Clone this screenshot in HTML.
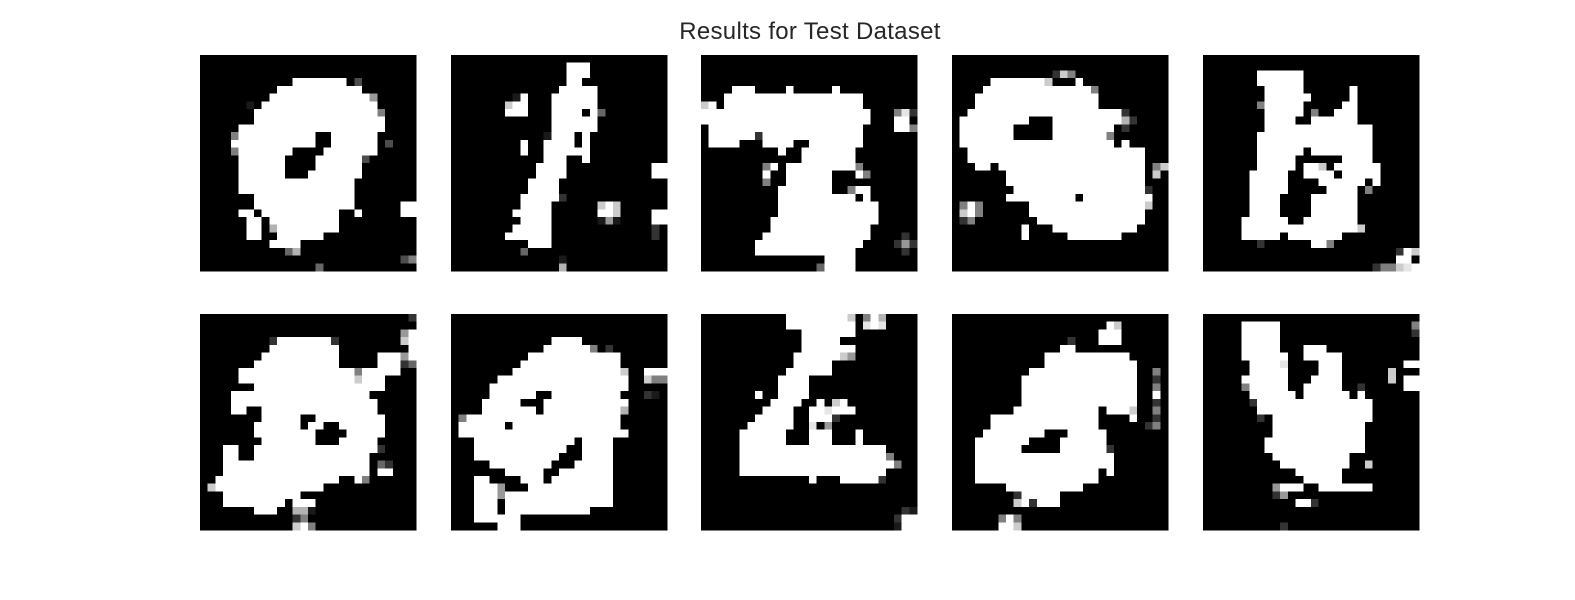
<!DOCTYPE html>
<html><head><meta charset="utf-8"><title>Results for Test Dataset</title>
<style>
html,body{margin:0;padding:0;background:#fff;width:1575px;height:600px;overflow:hidden}
#title{position:absolute;left:0;width:1620px;top:18px;text-align:center;font-family:"Liberation Sans",Arial,sans-serif;font-size:24px;letter-spacing:0.3px;color:#262626}
svg{position:absolute;left:0;top:0}
</style></head>
<body>
<div id="title">Results for Test Dataset</div>
<svg id="chart" width="1575" height="600" shape-rendering="crispEdges"></svg>
<script>
// Each image: 28 rows, run-length tokens: count + char. '.'=black, '#'=white, a..i = gray levels 0.1..0.9
const img0=["28.","28.","28.","12. 7# . c 7.","10. 11# 7.","9. 13# f 5.","6. a . 15# 5.","7. 16# e 4.","7. 17# 4.","5. 19# 4.","4. e 10# 2. 6# 5.","4. # 10# 2. 6# . c 4.","4. e 7# 4. 7# 5.","5. 6# 4. 6# c 6.","5. 6# 4. 6# 7.","5. 6# 3. 7# 7.","5. 15# 8.","5. 15# 8.","7. 13# 8.","7. 13# 6. 2#","5. 2# . 10# 2. # 5. 2#","6. 2# . 9# 10.","6. 2# . g 8# 10.","6. 2# 2. 6# 12.","9. 4# 15.","11. d g 15.","26. c e","15. d 12."];
const img1=["28.","15. 3# 10.","15. 3# 10.","15. 2# 11.","14. 5# 9.","8. a # 3. 6# 9.","7. h 2# 3. 6# 9.","7. 3# 3. 4# . # d 8.","13. 6# 9.","13. 6# 9.","12. a 3# . # 10.","9. # 2. 4# . # 10.","9. # 2. 6# 10.","12. 3# 2. # 10.","11. 4# 11. 2#","11. 4# 11. 2#","10. 4# 14.","10. 4# 14.","9. 5# b 13.","9. 4# 6. h # h 6.","8. 5# 6. 2# h 4. 2#","9. 4# 6. a f a 4. 2#","8. 5# 13. b .","7. 6# 13. b .","10. 3# 15.","9. d 18.","14. a 13.","14. g 13."];
const img2=["28.","28.","28.","28.","4. 3# 4. # 5. # 10.","3. 18# 7.","h # . 18# 7.","22# 3. e i b","22# 3. 2# .",". 20# 4. 2# e",". 6# b 13# 7.",". 4# 3. 4# 2. 7# 7.","10. # 2. 7# 8.","13. 7# 8.","8. e # . 9# e 7.","8. # 2. 6# 3. # e 6.","8. e 2. 6# 11.","10. 7# 2. e 2# 6.","10. 10# . # 6.","10. 13# 5.","10. 13# 5.","9. 14# 5.","9. 13# 6.","8. 14# 4. b .","7. 14# 4. b f b","7. 13# 6. b .","16. 4# 8.","15. d 4# 8."];
const img3=["28.","28.","13. b h e 12.","5. 7# h 3. # 11.","4. 14# e 9.","3. 16# 9.","3. 16# 9.","2. 20# b 5.",". 9# 3. 9# g b 4.",". 7# 5. 8# . b 5.",". 7# 5. 7# e 7.",". 20# . # 5.","2. 23# 3.","2. 23# 3.","3. 2# . 19# . e h","7. 18# . h .","7. 18# 3.","8. 17# b 2.","7. 9# . 9# 2.",". e # e 6. 15# h 2.",". h # e 6. 15# 3.",". b e 8. 14# 3.","9. # 3. 11# 4.","9. # 5. 7# 6.","28.","28.","28.","28."];
const img4=["28.","28.","7. 6# 15.","7. 6# 15.","8. 5# 6. # 8.","8. 6# 5. # 8.","7. e 5# 5. 2# 8.","8. 5# . e 2. 3# 8.","8. 4# 2. 6# 8.","8. 14# 6.","7. 15# 6.","7. 15# 6.","7. 6# . 8# 6.","7. 5# 6. 4# 6.","7. 5# . 2# h . # 5# 5.","6. 5# 2. 4# . 5# 5.","6. 5# 4. 6# . # 5.","6. 5# 5. 4# . e 6.","6. 4# 4. 6# 8.","6. 4# 4. 6# 8.","6. 4# 4. 6# 8.","5. 6# 2. 7# 8.","5. 15# h 7.","5. 5# . 7# 10.","7. b 6. 2# e 11.","25. b # h","25. 2# .","22. b e e h i #"];
const img5=["27. b","28.","26. f #","9. b 7# b 8. h #","9. 9# 9. #","8. 10# 5. 3# f #","7. 11# 5. 3# b d","5. 15# e 5# 2.","5. 15# h 3# 4.","7. 17# 4.","4. 18# 6.","4. 19# 5.","4. 2# 2. 15# 5.","8. 5# 2. 9# 4.","7. 6# . 2# 2. 6# 4.","7. 8# 4. 5# 4.","8. 7# 3. 5# 5.","3. 2# 2. 16# b 4.","3. 2# 2. 15# 6.","3. 19# . d b 3.","3. 19# . 2# 3.","2. 16# 2. # e 6.",". h 14# 12.","3. 10# 15.","3. 8# . 3# 13.","7. 3# 2. g g a 13.","12. b e 14.","12. h # e 13."];
const img6=["28.","28.","28.","13. 4# 11.","12. 6# e . b 7.","10. 12# 6.","9. 13# 6.","8. 14# h 2. 3#","6. 17# 2. h e e","5. 18# 5.","5. 6# 2. 9# 3. b a .","4. 5# 3. 11# 5.","4. 7# . 10# g 5.",". e 20# 6.",". 6# . 14# 6.",". 22# 5.","3. 13# . 4# 7.","3. 12# 2. 4# 7.","3. 11# 3. 4# 7.","5. 8# 3. 5# 7.","7. 5# 2. 7# 7.","3. 2# 4. 3# . 8# 7.","3. 3# f 3. 11# 7.","3. 3# f 14# 7.","3. 3# . 14# 7.","3. 3# . 11# 10.","3. 6# 19.","6. 3# 19."];
const img7=["11. 8# h . e # g 4.","11. 9# . i # i 4.","13. 7# 8.","13. 5# 10.","13. 7# 8.","12. 6# h f 8.","12. 5# 11.","11. 6# 11.","10. 4# 14.","10. 4# 14.","7. # 2. 4# 14.","9. 4# 2. # . h # 9.","8. 4# 2. 2# i 3# 8.","7. 5# 2. 3# b 10.","6. 6# 2. i . f 11.","5. 6# 3. 3# 3. # 7.","5. 6# 3. 3# 3. # 7.","5. 19# 4.","5. 19# e 3.","5. 20# e 2.","5. 19# 4.","14. # 3. 5# b 4.","28.","28.","28.","26. b a","25. b 2#","25. a 2#"];
const img8=["28.","20. # h 6.","19. 3# 6.","15. b 3. 3# 6.","14. 2# 12.","12. 11# 5.","12. 12# 4.","10. 14# 2. e .","9. 15# 2. b .","9. 15# 2. e .","9. 15# 2. # .","9. 15# 2. b .","8. 11# . 3# h 2. e .","5. 14# 4. # 2. b .","5. 14# 6. b e .","4. 8# 3. 5# 8.","3. 7# 4. 6# 8.","3. 6# 5. 6# b 7.","3. 18# 7.","3. 18# 7.","3. 16# . # 7.","3. 16# 9.","7. 10# 11.","8. b 5# 14.","8. h # b 3# 14.","28.","6. e # e 19.","6. 2# h 19."];
const img9=["28.","5. 5# 17. e","5. 5# 17. b","5. 5# 18.","5. 5# 3. 3# 12.","5. 6# 2. 5# 10.","6. 4# i 4. 3# 8. 2#","6. 5# 4. 3# 6. h 3.","5. 6# 3. 4# 6. h . 2#","5. e 5# 2. 5# 2. b 5. 2#","6. 6# . 6# . # 7.","6. b 15# 6.","7. 15# 6.","7. b . 13# 6.","9. 12# 7.","9. 12# 7.","8. 13# 7.","8. 13# 7.","9. 10# 9.","10. 9# 2. h 6.","12. 6# 10.","13. 5# 10.","9. f 3# 2. 7# 6.","9. b f 17.","12. 2# b 13.","28.","28.","10. b 17."];
const images=[img0,img1,img2,img3,img4,img5,img6,img7,img8,img9];
const N=28;

const panelX=[200,451,701,952,1203], panelY=[55,314], panelSize=216;
const cell=panelSize/N;
function decodeRow(s){
  const out=[];
  s.split(' ').forEach(t=>{
    const m=t.match(/^(\d*)(.)$/);
    const n=m[1]?parseInt(m[1]):1;
    let v=m[2]==='.'?0:m[2]==='#'?1:(m[2].charCodeAt(0)-96)/10;
    for(let i=0;i<n;i++)out.push(v);
  });
  while(out.length<N)out.push(0);
  return out.slice(0,N);
}
const svg=document.getElementById('chart');
const NS='http://www.w3.org/2000/svg';
images.forEach((rows,k)=>{
  const g=document.createElementNS(NS,'g');
  
  
  const x0=panelX[k%5], y0=panelY[Math.floor(k/5)];
  const bg=document.createElementNS(NS,'rect');
  bg.setAttribute('x',x0);bg.setAttribute('y',y0);bg.setAttribute('width',panelSize);bg.setAttribute('height',panelSize);bg.setAttribute('fill','#000');
  
  
  g.appendChild(bg);
  rows.forEach((r,ri)=>{
    decodeRow(r).forEach((v,ci)=>{
      const c=Math.round(v*255);
      const rc=document.createElementNS(NS,'rect');
      rc.setAttribute('x',(x0+ci*cell).toFixed(2));
      rc.setAttribute('y',(y0+ri*cell).toFixed(2));
      rc.setAttribute('width',(cell+0.4).toFixed(2));
      rc.setAttribute('height',(cell+0.4).toFixed(2));
      rc.setAttribute('fill','rgb('+c+','+c+','+c+')');
      
      
      g.appendChild(rc);
    });
  });
  svg.appendChild(g);
});
</script>
</body></html>
